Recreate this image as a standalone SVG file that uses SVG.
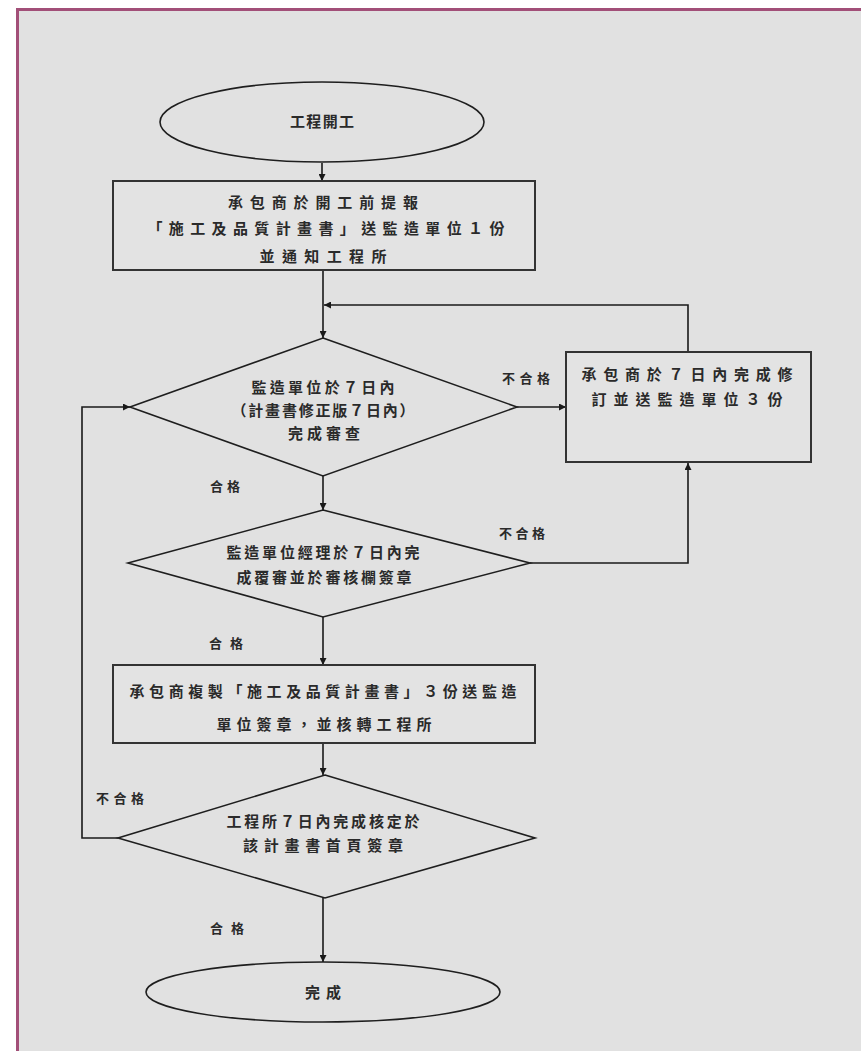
<svg xmlns="http://www.w3.org/2000/svg" width="861" height="1051" viewBox="0 0 861 1051">
<defs>
<marker id="ah" viewBox="0 0 10 10" refX="10" refY="5" markerWidth="7" markerHeight="7" markerUnits="userSpaceOnUse" orient="auto">
<path d="M0,0 L10,5 L0,10 z" fill="#1a1a1a"/>
</marker>
<style>
.shape{fill:none;stroke:#1e1e1e;stroke-width:1.6}
.box{fill:#e3e3e3;stroke:#333;stroke-width:2}
.conn{fill:none;stroke:#1a1a1a;stroke-width:1.6}
text{font-family:"Liberation Serif","Noto Sans CJK TC",serif;font-size:15px;font-weight:bold;fill:#2a2a2a;text-anchor:middle}
.lbl{font-size:13px}
</style>
</defs>
<rect x="0" y="0" width="861" height="1051" fill="#ffffff"/>
<rect x="17.5" y="9.5" width="850" height="1050" fill="#e1e1e1" stroke="#a24f78" stroke-width="3"/>

<g id="connectors">
<line class="conn" x1="322" y1="163" x2="322" y2="181" marker-end="url(#ah)"/>
<line class="conn" x1="323" y1="270" x2="323" y2="338" marker-end="url(#ah)"/>
<polyline class="conn" points="688,352 688,305 324,305" marker-end="url(#ah)"/>
<line class="conn" x1="517" y1="407" x2="566" y2="407" marker-end="url(#ah)"/>
<line class="conn" x1="323" y1="476" x2="323" y2="510" marker-end="url(#ah)"/>
<polyline class="conn" points="530,563 688,563 688,463" marker-end="url(#ah)"/>
<line class="conn" x1="323" y1="617" x2="323" y2="665" marker-end="url(#ah)"/>
<line class="conn" x1="323" y1="743" x2="323" y2="775" marker-end="url(#ah)"/>
<polyline class="conn" points="118,838 82,838 82,407 130,407" marker-end="url(#ah)"/>
<line class="conn" x1="323" y1="898" x2="323" y2="962" marker-end="url(#ah)"/>
<text class="lbl" x="526" y="383" textLength="48" lengthAdjust="spacing">不合格</text>
<text class="lbl" x="225" y="491" textLength="30" lengthAdjust="spacing">合格</text>
<text class="lbl" x="522" y="538" textLength="46" lengthAdjust="spacing">不合格</text>
<text class="lbl" x="226" y="648" textLength="34" lengthAdjust="spacing">合格</text>
<text class="lbl" x="120" y="803" textLength="48" lengthAdjust="spacing">不合格</text>
<text class="lbl" x="227" y="933" textLength="34" lengthAdjust="spacing">合格</text>
</g>

<g id="start">
<ellipse class="shape" cx="322" cy="122" rx="162" ry="40"/>
<text x="322" y="127" textLength="64" lengthAdjust="spacing">工程開工</text>
</g>

<g id="submit">
<rect class="box" x="113" y="181" width="422" height="89"/>
<text x="323" y="208" textLength="190" lengthAdjust="spacing">承包商於開工前提報</text>
<text x="326" y="234" textLength="357" lengthAdjust="spacing">「施工及品質計畫書」送監造單位１份</text>
<text x="323" y="262" textLength="127" lengthAdjust="spacing">並通知工程所</text>
</g>

<g id="review1">
<polygon class="shape" points="323,338 517,407 323,476 130,407"/>
<text x="323" y="393" textLength="143" lengthAdjust="spacing">監造單位於７日內</text>
<text x="323" y="416" textLength="183" lengthAdjust="spacing">（計畫書修正版７日內）</text>
<text x="324" y="439" textLength="72" lengthAdjust="spacing">完成審查</text>
</g>

<g id="revise">
<rect class="box" x="566" y="352" width="245" height="110"/>
<text x="687" y="380" textLength="211" lengthAdjust="spacing">承包商於７日內完成修</text>
<text x="687" y="405" textLength="191" lengthAdjust="spacing">訂並送監造單位３份</text>
</g>

<g id="review2">
<polygon class="shape" points="323,510 530,563 323,617 128,563"/>
<text x="323" y="558" textLength="193" lengthAdjust="spacing">監造單位經理於７日內完</text>
<text x="324" y="583" textLength="175" lengthAdjust="spacing">成覆審並於審核欄簽章</text>
</g>

<g id="copy">
<rect class="box" x="113" y="665" width="422" height="78"/>
<text x="323" y="697" textLength="387" lengthAdjust="spacing">承包商複製「施工及品質計畫書」３份送監造</text>
<text x="324" y="730" textLength="215" lengthAdjust="spacing">單位簽章，並核轉工程所</text>
</g>

<g id="approve">
<polygon class="shape" points="325,775 535,838 325,898 118,838"/>
<text x="323" y="827" textLength="193" lengthAdjust="spacing">工程所７日內完成核定於</text>
<text x="323" y="851" textLength="160" lengthAdjust="spacing">該計畫書首頁簽章</text>
</g>

<g id="end">
<ellipse class="shape" cx="323" cy="992" rx="177" ry="30"/>
<text x="323" y="998" textLength="36" lengthAdjust="spacing">完成</text>
</g>
</svg>
